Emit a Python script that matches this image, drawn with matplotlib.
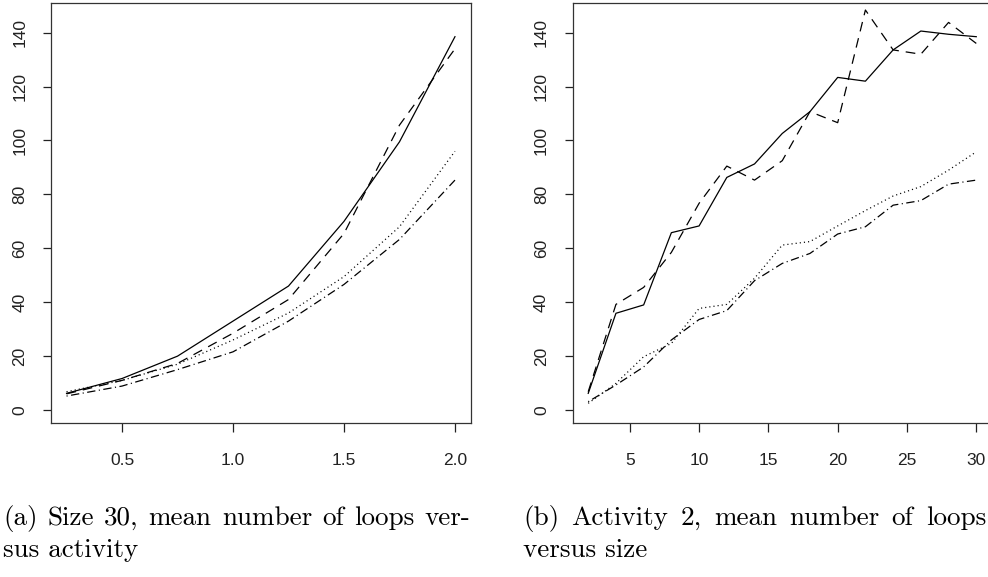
import matplotlib
matplotlib.use("Agg")
import matplotlib.pyplot as plt

# ---- data ----
activity = [0.25, 0.5, 0.75, 1.0, 1.25, 1.5, 1.75, 2.0]
a_solid = [6.2, 11.7, 20.0, 33.0, 46.0, 70.0, 99.5, 138.5]
a_dashed = [6.0, 11.0, 17.3, 28.5, 41.0, 65.5, 105.7, 134.0]
a_dotted = [6.8, 11.0, 17.0, 26.0, 36.0, 49.5, 68.0, 96.0]
a_dotdash = [5.2, 8.9, 15.0, 21.6, 33.0, 46.6, 63.3, 85.3]

size = [2, 4, 6, 8, 10, 12, 14, 16, 18, 20, 22, 24, 26, 28, 30]
b_solid = [6.2, 35.9, 39.0, 65.8, 68.3, 86.3, 91.3, 102.6, 110.7, 123.4, 122.0, 133.6, 140.6, 139.4, 138.5]
b_dashed = [6.8, 39.2, 45.5, 58.5, 76.7, 90.5, 85.3, 92.5, 110.7, 106.6, 148.4, 133.6, 132.0, 143.8, 136.0]
b_dotted = [2.5, 9.9, 19.8, 24.7, 37.7, 39.2, 48.9, 61.2, 62.5, 68.3, 74.0, 79.4, 82.9, 89.0, 95.8]
b_dotdash = [3.1, 9.3, 16.0, 26.0, 33.6, 36.9, 48.0, 54.4, 58.1, 65.3, 68.0, 76.0, 77.7, 83.8, 85.3]

yticks = [0, 20, 40, 60, 80, 100, 120, 140]
xticks_a = [0.5, 1.0, 1.5, 2.0]
xticks_b = [5, 10, 15, 20, 25, 30]
caption_a = ["(a) Size 30, mean number of loops ver-", "sus activity"]
caption_b = ["(b) Activity 2, mean number of loops", "versus size"]

plt.rcParams['lines.scale_dashes'] = False
W, H = 988, 577
fig = plt.figure(figsize=(W / 100, H / 100), dpi=100)

def px_axes(x0, x1, ytop, ybot):
    return fig.add_axes([x0 / W, (H - ybot) / H, (x1 - x0) / W, (ybot - ytop) / H])

styles = [
    dict(linestyle='-'),
    dict(linestyle=(0, (7, 5))),
    dict(linestyle=(0, (0.8, 2.2))),
    dict(linestyle=(0, (0.8, 2.5, 6, 2.5))),
]

def setup(ax, x, series, xlim, xticks):
    for s, st in zip(series, styles):
        ax.plot(x, s, color='black', lw=0.9, **st)
    ax.set_xlim(*xlim)
    ax.set_ylim(-4.8, 151)
    ax.set_yticks(yticks)
    ax.set_xticks(xticks)
    ax.set_xticklabels([("%g" % t) if isinstance(t, int) else ("%.1f" % t) for t in xticks],
                       family='Liberation Sans', fontsize=12.5)
    ax.set_yticklabels([str(t) for t in yticks], family='Liberation Sans', fontsize=12.5,
                       rotation=90, va='center')
    ax.tick_params(axis='x', direction='out', length=6.5, width=0.9, pad=15, colors='#222222')
    ax.tick_params(axis='y', direction='out', length=6, width=0.9, pad=11, colors='#222222')
    for sp in ax.spines.values():
        sp.set_linewidth(0.9)
        sp.set_color('#333333')

ax1 = px_axes(51, 470.5, 3, 423)
setup(ax1, activity, [a_solid, a_dashed, a_dotted, a_dotdash], (0.18, 2.07), xticks_a)
ax2 = px_axes(572.7, 991.8, 3, 423)
setup(ax2, size, [b_solid, b_dashed, b_dotted, b_dotdash], (0.88, 31.12), xticks_b)

cap_fs = 19.5
renderer = fig.canvas.get_renderer()

def justified(line, x0, x1, ybase):
    words = line.split(" ")
    texts = [fig.text(0, 1 - ybase / H, w, family='cmr10', fontsize=cap_fs,
                      va='baseline', ha='left') for w in words]
    widths = [t.get_window_extent(renderer).width for t in texts]
    gap = (x1 - x0 - sum(widths)) / (len(words) - 1)
    x = x0
    for t, wd in zip(texts, widths):
        t.set_x(x / W)
        x += wd + gap

def plain(line, x0, ybase):
    fig.text(x0 / W, 1 - ybase / H, line, family='cmr10', fontsize=cap_fs,
             va='baseline', ha='left')

justified(caption_a[0], 3, 470, 525)
plain(caption_a[1], 3, 557)
justified(caption_b[0], 523, 986, 525)
plain(caption_b[1], 523, 557)

fig.savefig("out.png", dpi=100)
